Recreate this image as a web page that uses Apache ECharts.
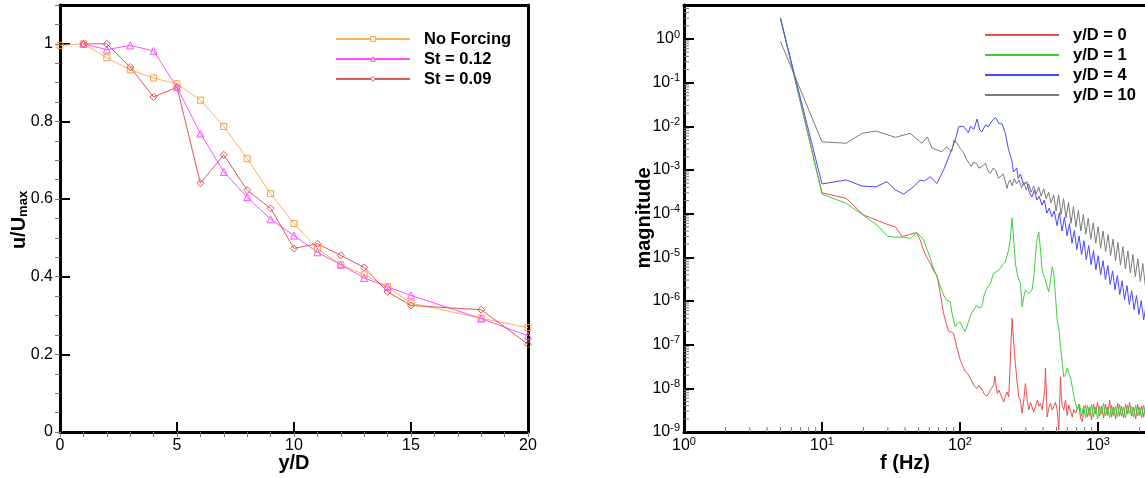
<!DOCTYPE html>
<html><head><meta charset="utf-8">
<script src="https://cdn.jsdelivr.net/npm/echarts@6/dist/echarts.min.js"></script>
<style>html,body{margin:0;padding:0;background:#fff}#c{width:1145px;height:478px}</style>
</head><body><div id="c"></div>
<script>
// ---------- left panel: u/Umax vs y/D ----------
const noForcingX = [0,1,2,3,4,5,6,7,8,9,10,11,12,13,14,15,18,20];
const noForcingY = [0.996,1.0,0.964,0.933,0.912,0.897,0.855,0.787,0.704,0.614,0.537,0.472,0.431,0.405,0.374,0.332,0.293,0.269];
const st012X = [1,2,3,4,5,6,7,8,9,10,11,12,13,14,15,18,20];
const st012Y = [1.0,0.985,0.996,0.982,0.888,0.769,0.670,0.605,0.548,0.506,0.463,0.431,0.397,0.374,0.352,0.292,0.248];
const st009X = [1,2,3,4,5,6,7,8,9,10,11,12,13,14,15,18,20];
const st009Y = [1.0,1.0,0.940,0.863,0.888,0.641,0.714,0.623,0.576,0.473,0.485,0.455,0.424,0.361,0.326,0.315,0.226];
const leftNames = ['No Forcing','St = 0.12','St = 0.09'];

// ---------- right panel: spectra [f (Hz), magnitude] ----------
const specYD0 = [[5,3.0],[10,3.0e-4],[15,2.24e-4],[20,9.3e-5],[25,7.1e-5],[30,5.6e-5],[34,5.0e-5],[38,3.0e-5],[43,3.3e-5],[48.5,3.7e-5],[51.5,2.5e-5],[54.4,1.47e-5],[57.4,1.01e-5],[60.9,7.3e-6],[64,5.1e-6],[68.1,3.9e-6],[71.9,1.5e-6],[76,5.2e-7],[79.6,3.0e-7],[82.7,2.0e-7],[86.4,1.94e-7],[89.9,1.81e-7],[94.8,8.8e-8],[100.5,4.4e-8],[104.8,3.2e-8],[109.3,2.4e-8],[114.9,2.1e-8],[122.2,1.41e-8],[127,1.12e-8],[132.9,9.9e-9],[136.9,1.18e-8],[140.4,1.08e-8],[145.2,9.1e-9],[150.1,7.4e-9],[157,6.6e-9],[161.9,7.8e-9],[166,9.1e-9],[170.8,8.3e-9],[175.4,1.18e-8],[179,1.9e-8],[182.5,1.18e-8],[186.5,7.6e-9],[191.3,9.1e-9],[196,7.6e-9],[202,6.0e-9],[207.5,4.9e-9],[213.4,6.6e-9],[219.5,8.3e-9],[225.4,6.4e-9],[230,2.6e-8],[234.6,1.27e-7],[238.6,4.0e-7],[242.6,1.66e-7],[245.9,9.8e-8],[252,3.7e-8],[258.5,1.54e-8],[266.5,6.4e-9],[274,5.4e-9],[282,2.7e-9],[290,5.4e-9],[298,1.29e-8],[307,5.4e-9],[315,3.2e-9],[324,4.8e-9],[333,4.5e-9],[342,2.9e-9],[352,3.2e-9],[364,5.4e-9],[373,3.9e-9],[383,4.5e-9],[394,3.2e-9],[405,3.2e-9],[411,9.1e-9],[416,2.9e-8],[422,9.1e-9],[428,2.2e-9],[440,3.5e-9],[452,4.5e-9],[466,3.2e-9],[478,3.8e-9],[492,4.8e-9],[506,3.2e-9],[520,1.1e-9],[528,5.4e-9],[535,1.84e-8],[542,7.0e-9],[550,4.1e-9],[565,3.2e-9],[582,5.4e-9],[598,2.4e-9],[615,4.1e-9],[633,4.5e-9],[651,2.2e-9],[668,3.3e-9],[688,2.7e-9],[707,2.7e-9],[727,4.3e-9],[747,2.1e-9],[769,1.71e-9],[790,3.5e-9],[812,4.1e-9],[840,2.2e-9],[868,3.7e-9],[898,1.9e-9],[928,4.3e-9],[960,2.6e-9],[993,4.8e-9],[1026,2.3e-9],[1061,3.9e-9],[1097,2.1e-9],[1135,4.3e-9],[1173,2.4e-9],[1213,5.4e-9],[1255,2.2e-9],[1297,3.7e-9],[1341,2.0e-9],[1387,4.6e-9],[1434,2.3e-9],[1483,3.9e-9],[1533,2.1e-9],[1585,4.3e-9],[1639,2.6e-9],[1695,4.8e-9],[1753,2.3e-9],[1812,3.7e-9],[1874,2.0e-9],[1938,4.3e-9],[2004,2.4e-9],[2072,3.9e-9],[2142,2.2e-9],[2215,4.1e-9],[2290,2.6e-9]];
const specYD1 = [[5,3.1],[10,2.8e-4],[15,1.72e-4],[19,1.02e-4],[25,5.5e-5],[30,3.0e-5],[34,2.9e-5],[39,2.9e-5],[43.5,2.7e-5],[48.5,3.7e-5],[51.5,3.1e-5],[54.5,2.5e-5],[57.5,1.55e-5],[61,9.5e-6],[64,5.7e-6],[68,3.6e-6],[72,2.2e-6],[76,1.37e-6],[80,1.05e-6],[85,9.6e-7],[88,4.8e-7],[92,2.6e-7],[96,3.1e-7],[100.5,3.3e-7],[105,2.4e-7],[109,2.0e-7],[115,3.3e-7],[121,5.2e-7],[126,6.2e-7],[132,8.1e-7],[137,6.9e-7],[144,7.4e-7],[149,1.3e-6],[156,1.94e-6],[166,2.5e-6],[175,4.3e-6],[186,4.8e-6],[196,5.6e-6],[203,6.7e-6],[207,7.3e-6],[213,7.8e-6],[219,8.6e-6],[225,1.47e-5],[231,2.5e-5],[238.6,7.9e-5],[245,2.5e-5],[252,7.3e-6],[262,3.6e-6],[274,2.5e-6],[282,7.4e-7],[291,1.3e-6],[298,1.78e-6],[315,1.5e-6],[333,1.78e-6],[344,3.9e-6],[352,1.03e-5],[361,2.5e-5],[372,3.8e-5],[383,1.47e-5],[394,5.1e-6],[405,3.7e-6],[416,3.0e-6],[428,2.1e-6],[440,1.63e-6],[452,3.0e-6],[466,6.1e-6],[478,4.3e-6],[492,1.3e-6],[506,3.7e-7],[521,2.2e-7],[535,8.9e-8],[550,4.0e-8],[565,1.83e-8],[582,2.1e-8],[598,2.9e-8],[615,3.1e-8],[633,1.71e-8],[651,1.08e-8],[668,6.6e-9],[688,4.5e-9],[710,3.2e-9],[735,4.3e-9],[760,2.3e-9],[786,3.9e-9],[812,2.1e-9],[840,4.1e-9],[868,2.4e-9],[898,4.3e-9],[928,2.2e-9],[960,3.7e-9],[993,2.0e-9],[1026,3.9e-9],[1061,2.6e-9],[1097,4.6e-9],[1135,2.3e-9],[1173,3.7e-9],[1213,2.1e-9],[1255,4.1e-9],[1297,2.4e-9],[1341,3.9e-9],[1387,2.2e-9],[1434,4.3e-9],[1483,2.3e-9],[1533,3.7e-9],[1585,2.1e-9],[1639,4.1e-9],[1695,2.6e-9],[1753,3.9e-9],[1812,2.2e-9],[1874,4.1e-9],[1938,2.3e-9],[2004,3.7e-9],[2072,2.1e-9],[2142,4.1e-9],[2215,2.4e-9],[2290,3.5e-9]];
const specYD4 = [[5,2.9],[10,4.8e-4],[15,5.9e-4],[19.5,4.3e-4],[24.5,4.1e-4],[29.5,5.4e-4],[34,3.5e-4],[39,2.8e-4],[46,4.1e-4],[51.5,5.9e-4],[55,5.6e-4],[61,7.0e-4],[68,4.9e-4],[76,1.0e-3],[85,2.4e-3],[92.4,4.9e-3],[98,9.8e-3],[106,1.0e-2],[115,7.1e-3],[119,1.0e-2],[126,8.5e-3],[133,1.47e-2],[139,8.2e-3],[144,7.5e-3],[153,1.07e-2],[161,9.8e-3],[170,1.32e-2],[181,1.6e-2],[191,1.17e-2],[202,1.13e-2],[213,6.9e-3],[225,2.9e-3],[231,2.2e-3],[237,1.7e-3],[244,9.0e-4],[250,8.4e-4],[258,1.1e-3],[264,6.4e-4],[274,8.1e-4],[290,4.5e-4],[304,5.4e-4],[318,3.1e-4],[332,2.4e-4],[346,3.5e-4],[360,2.05e-4],[375,2.5e-4],[393,1.57e-4],[408,2.05e-4],[426,1.02e-4],[443,1.34e-4],[463,8.5e-5],[482,1.15e-4],[505,5.3e-5],[525,1.05e-4],[549,4.0e-5],[571,8.2e-5],[597,3.1e-5],[621,5.9e-5],[648,2.1e-5],[674,4.1e-5],[702,1.5e-5],[730,3.1e-5],[760,1.15e-5],[791,2.4e-5],[823,8.8e-6],[856,1.86e-5],[891,6.8e-6],[928,1.43e-5],[965,5.2e-6],[1004,1.09e-5],[1045,4.0e-6],[1088,8.4e-6],[1132,3.1e-6],[1178,6.5e-6],[1226,2.4e-6],[1276,4.9e-6],[1328,1.8e-6],[1382,3.8e-6],[1438,1.4e-6],[1496,2.9e-6],[1557,1.08e-6],[1621,2.25e-6],[1687,8.3e-7],[1755,1.73e-6],[1827,6.3e-7],[1901,1.33e-6],[1978,4.9e-7],[2059,1.02e-6],[2143,3.7e-7],[2230,7.8e-7]];
const specYD10 = [[5,0.88],[10,4.4e-3],[15,4.1e-3],[19.5,6.9e-3],[24.5,7.8e-3],[34,5.6e-3],[43.5,6.9e-3],[53,4.1e-3],[58,5.7e-3],[62.6,3.2e-3],[73.8,2.6e-3],[80,3.4e-3],[87,2.6e-3],[90.6,4.9e-3],[94.8,4.1e-3],[100.5,3.1e-3],[105.5,2.6e-3],[112,1.7e-3],[121,1.19e-3],[125,1.5e-3],[132,1.42e-3],[137,1.1e-3],[144,1.19e-3],[153,1.42e-3],[160,9.5e-4],[166,8.4e-4],[174,1.1e-3],[181,1.0e-3],[190,6.5e-4],[196,7.0e-4],[206,8.1e-4],[213,5.4e-4],[219,3.8e-4],[225,5.3e-4],[231,5.9e-4],[239,4.3e-4],[247,6.4e-4],[257,4.8e-4],[268,5.9e-4],[279,3.9e-4],[290,5.3e-4],[302,3.5e-4],[314,4.8e-4],[328,3.1e-4],[342,4.3e-4],[356,2.8e-4],[372,4.1e-4],[387,2.5e-4],[404,3.7e-4],[421,2.2e-4],[439,3.1e-4],[457,1.75e-4],[477,2.7e-4],[497,1.15e-4],[518,2.7e-4],[540,9.5e-5],[563,2.2e-4],[586,8.0e-5],[611,1.8e-4],[637,6.0e-5],[664,1.45e-4],[692,5.0e-5],[721,1.2e-4],[751,4.0e-5],[783,9.5e-5],[816,3.4e-5],[850,7.8e-5],[886,2.6e-5],[924,6.2e-5],[963,2.1e-5],[1003,5.0e-5],[1045,1.6e-5],[1089,4.0e-5],[1135,1.35e-5],[1183,3.3e-5],[1233,1.1e-5],[1285,2.6e-5],[1339,8.4e-6],[1396,2.2e-5],[1455,6.6e-6],[1516,1.75e-5],[1580,5.5e-6],[1647,1.4e-5],[1717,4.4e-6],[1789,1.15e-5],[1865,3.6e-6],[1944,9.2e-6],[2026,2.8e-6],[2111,7.2e-6],[2200,2.3e-6],[2290,5.8e-6]];
const rightNames = ['y/D = 0','y/D = 1','y/D = 4','y/D = 10'];

// minor tick helpers for the log axes (2..9 x 10^n)
const minorFactors = [2,3,4,5,6,7,8,9];
const yDecades = [-9,-8,-7,-6,-5,-4,-3,-2,-1,0];
const xDecades = [0,1,2,3];

const FONT = '"Liberation Sans", Arial, sans-serif';
const zip = (xs, ys) => xs.map((x, i) => [x, ys[i]]);

const minorData = [];
yDecades.forEach(n => minorFactors.forEach(k => { const v = k * Math.pow(10, n); if (v < 6) minorData.push([1, v, 0]); }));
xDecades.forEach(n => minorFactors.forEach(k => { minorData.push([k * Math.pow(10, n), 1e-9, 1]); }));

const axisLine = {show: true, onZero: false, lineStyle: {color: '#000', width: 3}};
const majorTick = {show: true, inside: true, length: 10, lineStyle: {color: '#000', width: 2}};
const minorTick = {show: true, inside: true, length: 5, lineStyle: {color: '#777', width: 1}};
const lbl = {color: '#000', fontSize: 16, fontFamily: FONT};
const plain = {axisLine: {show: false}, axisTick: {show: false}, axisLabel: {show: false}, splitLine: {show: false}};

const logFmt = v => {
  const e = Math.log10(v), r = Math.round(e);
  if (Math.abs(e - r) > 1e-6) return '';
  return '{b|10}{s|' + r + '}';
};
const logRich = {
  b: {fontSize: 16, fontFamily: FONT, color: '#000', lineHeight: 20},
  s: {fontSize: 11, fontFamily: FONT, color: '#000', lineHeight: 11, verticalAlign: 'top'}
};
const legendText = {fontSize: 16.5, fontWeight: 'bold', fontFamily: FONT, color: '#000', lineHeight: 20, padding: [0, 0, 0, 9]};
const hollow = c => ({color: 'rgba(255,255,255,0)', borderColor: c, borderWidth: 1});

const option = {
  animation: false,
  backgroundColor: '#fff',
  grid: [
    {left: 60, right: 617, top: 5, bottom: 46, outerBoundsMode: 'none', containLabel: false},
    {left: 684, right: -91, top: 5, bottom: 46, outerBoundsMode: 'none', containLabel: false}
  ],
  xAxis: [
    {type: 'value', gridIndex: 0, min: 0, max: 20, interval: 5, axisLine, axisTick: majorTick,
     axisLabel: Object.assign({margin: 6}, lbl), splitLine: {show: false}},
    Object.assign({type: 'value', gridIndex: 0, min: 0, max: 20, interval: 1}, plain, {axisTick: minorTick}),
    Object.assign({type: 'value', gridIndex: 0, position: 'top', min: 0, max: 1}, plain, {axisLine}),
    {type: 'log', logBase: 10, gridIndex: 1, min: 1, max: 10000, interval: 1, axisLine, axisTick: majorTick,
     axisLabel: {margin: 4, formatter: logFmt, rich: logRich}, splitLine: {show: false}},
    Object.assign({type: 'value', gridIndex: 1, position: 'top', min: 0, max: 1}, plain, {axisLine})
  ],
  yAxis: [
    {type: 'value', gridIndex: 0, min: 0, max: 1.1, interval: 0.2, axisLine, axisTick: majorTick,
     axisLabel: Object.assign({margin: 7, formatter: v => (v > 1.05 ? '' : String(+v.toFixed(2)))}, lbl),
     splitLine: {show: false}},
    Object.assign({type: 'value', gridIndex: 0, min: 0, max: 1.1, interval: 0.05}, plain, {axisTick: minorTick}),
    Object.assign({type: 'value', gridIndex: 0, position: 'right', min: 0, max: 1}, plain, {axisLine}),
    {type: 'log', logBase: 10, gridIndex: 1, min: 1e-9, max: 6, interval: 1, axisLine, axisTick: majorTick,
     axisLabel: {margin: 4, formatter: logFmt, rich: logRich, showMaxLabel: false}, splitLine: {show: false}}
  ],
  legend: [
    {data: leftNames, orient: 'vertical', left: 335, top: 29, padding: 0, itemWidth: 74, itemHeight: 6, itemGap: 0,
     itemStyle: {color: '#fff', borderWidth: 1}, textStyle: legendText},
    {data: rightNames, orient: 'vertical', left: 985, top: 25, padding: 0, itemWidth: 74, itemHeight: 2, itemGap: 0,
     icon: 'rect', textStyle: legendText}
  ],
  series: [
    {name: 'No Forcing', type: 'line', xAxisIndex: 0, yAxisIndex: 0, data: zip(noForcingX, noForcingY),
     symbol: 'rect', symbolSize: 6, color: '#f5a040',
     lineStyle: {color: '#ffb060', width: 1}, itemStyle: hollow('#f5a040')},
    {name: 'St = 0.12', type: 'line', xAxisIndex: 0, yAxisIndex: 0, data: zip(st012X, st012Y),
     symbol: 'triangle', symbolSize: 7, color: '#ff50ff',
     lineStyle: {color: '#ff50ff', width: 1}, itemStyle: hollow('#ff50ff')},
    {name: 'St = 0.09', type: 'line', xAxisIndex: 0, yAxisIndex: 0, data: zip(st009X, st009Y),
     symbol: 'diamond', symbolSize: 7, color: '#e05858',
     lineStyle: {color: '#e05858', width: 1}, itemStyle: hollow('#e05858')},
    {name: 'y/D = 0', type: 'line', xAxisIndex: 3, yAxisIndex: 3, data: specYD0, showSymbol: false, symbol: 'none',
     color: '#e85050', lineStyle: {color: '#e85050', width: 1}},
    {name: 'y/D = 1', type: 'line', xAxisIndex: 3, yAxisIndex: 3, data: specYD1, showSymbol: false, symbol: 'none',
     color: '#3ccf3c', lineStyle: {color: '#3ccf3c', width: 1}},
    {name: 'y/D = 4', type: 'line', xAxisIndex: 3, yAxisIndex: 3, data: specYD4, showSymbol: false, symbol: 'none',
     color: '#4848ff', lineStyle: {color: '#4848ff', width: 1}},
    {name: 'y/D = 10', type: 'line', xAxisIndex: 3, yAxisIndex: 3, data: specYD10, showSymbol: false, symbol: 'none',
     color: '#7a7a7a', lineStyle: {color: '#7a7a7a', width: 1}},
    {type: 'custom', xAxisIndex: 3, yAxisIndex: 3, data: minorData, silent: true, z: 5,
     renderItem: (params, api) => {
       const p = api.coord([api.value(0), api.value(1)]);
       const vertical = api.value(2) === 1;
       return {type: 'line', shape: vertical ? {x1: p[0], y1: p[1], x2: p[0], y2: p[1] - 5} : {x1: p[0], y1: p[1], x2: p[0] + 5, y2: p[1]},
               style: {stroke: '#777', lineWidth: 1}};
     }}
  ],
  graphic: [
    {type: 'text', x: 19, y: 220, rotation: Math.PI / 2,
     style: {text: '{a|u/U}{s|max}', align: 'center', verticalAlign: 'middle',
       rich: {a: {fontSize: 20, fontWeight: 'bold', fontFamily: FONT, fill: '#000', lineHeight: 22},
              s: {fontSize: 13, fontWeight: 'bold', fontFamily: FONT, fill: '#000', lineHeight: 13, verticalAlign: 'bottom'}}}},
    {type: 'text', x: 294, y: 463, style: {text: 'y/D', align: 'center', verticalAlign: 'middle', fill: '#000',
      font: 'bold 20px ' + FONT}},
    {type: 'text', x: 644, y: 218, rotation: Math.PI / 2, style: {text: 'magnitude', align: 'center', verticalAlign: 'middle', fill: '#000',
      font: 'bold 20px ' + FONT}},
    {type: 'text', x: 905, y: 463, style: {text: 'f (Hz)', align: 'center', verticalAlign: 'middle', fill: '#000',
      font: 'bold 20px ' + FONT}}
  ]
};
const chart = echarts.init(document.getElementById('c'));
chart.setOption(option);
</script></body></html>
